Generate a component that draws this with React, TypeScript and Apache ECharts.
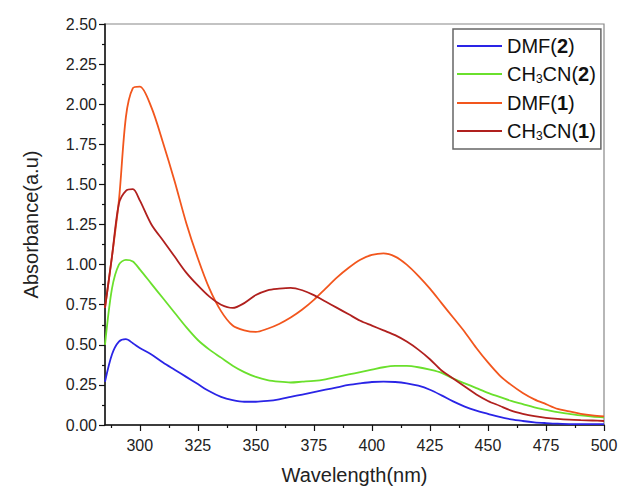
import React, { useEffect, useRef } from "react";
import * as echarts from "echarts";

const FONT = '"Liberation Sans", Arial, sans-serif';

const wavelengths = [
  285, 288, 291, 294, 297, 300, 305, 310, 315, 320, 325, 330, 335, 340, 345, 350,
  355, 360, 365, 370, 375, 380, 385, 390, 395, 400, 405, 410, 415, 420, 425, 430,
  435, 440, 445, 450, 455, 460, 465, 470, 475, 480, 485, 490, 495, 500,
];

const dmf2 = [
  0.27, 0.44, 0.52, 0.535, 0.51, 0.48, 0.44, 0.39, 0.345, 0.3, 0.255, 0.21, 0.175, 0.155, 0.145, 0.145,
  0.15, 0.16, 0.175, 0.19, 0.205, 0.22, 0.235, 0.25, 0.26, 0.268, 0.27, 0.268, 0.26, 0.245, 0.22, 0.185,
  0.147, 0.115, 0.09, 0.07, 0.05, 0.035, 0.025, 0.017, 0.012, 0.008, 0.006, 0.005, 0.005, 0.005,
];

const ch3cn2 = [
  0.5, 0.85, 1.0, 1.03, 1.02, 0.97, 0.88, 0.79, 0.7, 0.61, 0.53, 0.47, 0.42, 0.37, 0.33, 0.3,
  0.28, 0.27, 0.265, 0.27, 0.275, 0.285, 0.3, 0.315, 0.33, 0.345, 0.36, 0.368, 0.368, 0.36, 0.345, 0.325,
  0.29, 0.26, 0.23, 0.2, 0.175, 0.15, 0.13, 0.11, 0.095, 0.08, 0.07, 0.06, 0.053, 0.048,
];

const dmf1 = [
  0.73, 1.05, 1.4, 1.92, 2.1, 2.11, 1.98, 1.76, 1.52, 1.26, 1.04, 0.85, 0.71, 0.62, 0.59, 0.58,
  0.6, 0.63, 0.67, 0.72, 0.78, 0.85, 0.92, 0.98, 1.03, 1.06, 1.07, 1.05, 1.0, 0.93, 0.85, 0.76,
  0.67, 0.58, 0.48, 0.39, 0.31, 0.25, 0.2, 0.16, 0.13, 0.1, 0.085, 0.07, 0.06, 0.054,
];

const ch3cn1 = [
  0.73, 1.05, 1.38, 1.46, 1.47, 1.4, 1.25, 1.15, 1.05, 0.95, 0.87, 0.8, 0.75, 0.73, 0.76, 0.81,
  0.84, 0.85, 0.855, 0.84, 0.81, 0.77, 0.73, 0.69, 0.65, 0.62, 0.59, 0.56, 0.52, 0.47, 0.41, 0.34,
  0.29, 0.24, 0.19, 0.15, 0.12, 0.09, 0.07, 0.055, 0.045, 0.038, 0.033, 0.03, 0.028, 0.025,
];

const seriesNames = ["DMF(2)", "CH3CN(2)", "DMF(1)", "CH3CN(1)"];
const seriesValues = [dmf2, ch3cn2, dmf1, ch3cn1];
const seriesColors = ["#2a24e6", "#6ae02c", "#f2561d", "#b0201e"];

const xMajorTicks = [300, 325, 350, 375, 400, 425, 450, 475, 500];
const xMinorTicks = [287.5, 312.5, 337.5, 362.5, 387.5, 412.5, 437.5, 462.5, 487.5];

function legendFormatter(name: string): string {
  const m = name.match(/^(.*)\((\d)\)$/);
  if (!m) return "{n|" + name + "}";
  const base = m[1].replace(/(\d)/g, "}{s|$1}{n|");
  return "{n|" + base + "(}{b|" + m[2] + "}{n|)}";
}

export default function App() {
  const ref = useRef<HTMLDivElement>(null);

  useEffect(() => {
    if (!ref.current) return;
    const chart = echarts.init(ref.current, null, { renderer: "svg" });
    chart.setOption({
      animation: false,
      backgroundColor: "#ffffff",
      textStyle: { fontFamily: FONT },
      grid: {
        left: 105,
        right: 17,
        top: 24,
        bottom: 63,
        show: true,
        borderColor: "#888888",
        borderWidth: 1.2,
      },
      legend: {
        orient: "vertical",
        left: 453,
        top: 29,
        padding: [7, 5, 7, 4],
        itemWidth: 45,
        itemHeight: 2,
        itemGap: 8,
        icon: "rect",
        borderColor: "#666666",
        borderWidth: 1.5,
        data: seriesNames,
        formatter: legendFormatter,
        textStyle: {
          rich: {
            n: { fontSize: 20, fontFamily: FONT, color: "#111", lineHeight: 22 },
            b: { fontSize: 20, fontFamily: FONT, color: "#111", fontWeight: "bold", lineHeight: 22 },
            s: { fontSize: 12, fontFamily: FONT, color: "#111", lineHeight: 22, verticalAlign: "bottom", padding: [9, 0, 0, 0] },
          },
        },
      },
      xAxis: [
        {
          type: "value",
          min: 285,
          max: 500,
          name: "Wavelength(nm)",
          nameLocation: "middle",
          nameGap: 40,
          nameTextStyle: { fontSize: 20, color: "#222", fontFamily: FONT },
          axisLine: { show: true, lineStyle: { color: "#111", width: 1.5 } },
          axisTick: { show: true, customValues: xMajorTicks, length: 6, lineStyle: { color: "#111", width: 1.2 } },
          axisLabel: { customValues: xMajorTicks, fontSize: 16, color: "#222", margin: 12, fontFamily: FONT },
          splitLine: { show: false },
        },
        {
          type: "value",
          min: 285,
          max: 500,
          position: "bottom",
          axisLine: { show: false },
          axisTick: { show: true, customValues: xMinorTicks, length: 3, lineStyle: { color: "#111", width: 1.2 } },
          axisLabel: { show: false },
          splitLine: { show: false },
        },
      ],
      yAxis: {
        type: "value",
        min: 0,
        max: 2.5,
        interval: 0.25,
        name: "Absorbance(a.u)",
        nameLocation: "middle",
        nameGap: 64,
        nameTextStyle: { fontSize: 20, color: "#222", fontFamily: FONT },
        axisLine: { show: true, lineStyle: { color: "#111", width: 1.5 } },
        axisTick: { show: true, length: 6, lineStyle: { color: "#111", width: 1.2 } },
        minorTick: { show: true, splitNumber: 2, length: 3, lineStyle: { color: "#111", width: 1.2 } },
        axisLabel: {
          fontSize: 16,
          color: "#222",
          margin: 8,
          fontFamily: FONT,
          formatter: (v: number) => v.toFixed(2),
        },
        splitLine: { show: false },
      },
      series: seriesNames.map((name, i) => ({
        name,
        type: "line",
        xAxisIndex: 0,
        smooth: 0.3,
        showSymbol: false,
        symbol: "none",
        color: seriesColors[i],
        lineStyle: { color: seriesColors[i], width: 1.8 },
        data: wavelengths.map((w, j) => [w, seriesValues[i][j]]),
      })),
    });
    return () => chart.dispose();
  }, []);

  return (
    <div
      ref={ref}
      style={{ position: "fixed", left: 0, top: 0, width: 621, height: 490 }}
    />
  );
}
